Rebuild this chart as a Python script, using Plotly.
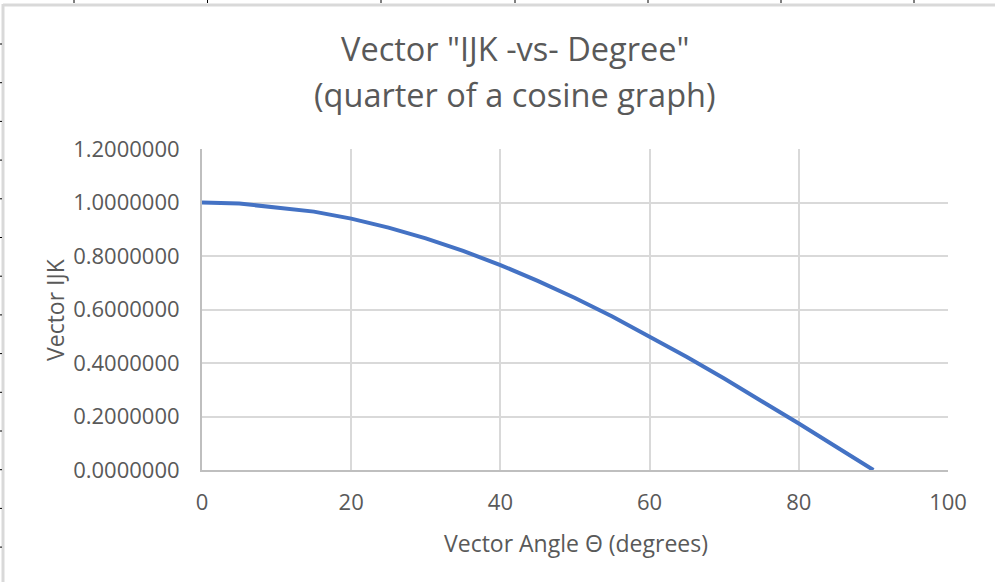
import plotly.graph_objects as go

# Data
angles_deg = [0, 5, 15, 20, 25, 30, 35, 40, 45, 50, 55, 60, 65, 70, 75, 80, 85, 90]
vector_ijk = [1.0000000, 0.9961947, 0.9659258, 0.9396926, 0.9063078, 0.8660254,
              0.8191520, 0.7660444, 0.7071068, 0.6427876, 0.5735764, 0.5000000,
              0.4226183, 0.3420201, 0.2588190, 0.1736482, 0.0871557, 0.0000000]

x_ticks = [0, 20, 40, 60, 80, 100]
y_ticks = [0.0, 0.2, 0.4, 0.6, 0.8, 1.0, 1.2]
y_tick_labels = ["0.0000000", "0.2000000", "0.4000000", "0.6000000", "0.8000000", "1.0000000", "1.2000000"]

title_line1 = 'Vector "IJK -vs- Degree"'
title_line2 = '(quarter of a cosine graph)'
x_title = 'Vector Angle Θ (degrees)'
y_title = 'Vector IJK'

W, H = 995, 582
L, R, T, B = 202, 47, 149, 112
FONT = "Open Sans"
TXT = "#595959"

fig = go.Figure()
fig.add_trace(go.Scatter(x=angles_deg, y=vector_ijk, mode="lines",
                         line=dict(color="#4472C4", width=4, shape="linear"),
                         showlegend=False, hoverinfo="x+y"))

fig.update_layout(
    width=W, height=H,
    margin=dict(l=L, r=R, t=T, b=B, pad=0),
    paper_bgcolor="white", plot_bgcolor="white",
    font=dict(family=FONT, color=TXT),
    xaxis=dict(range=[0, 100], tickvals=x_ticks, ticks="", showgrid=True,
               gridcolor="#d9d9d9", gridwidth=1.5, zeroline=False,
               showline=True, linecolor="#bfbfbf", linewidth=2,
               tickfont=dict(size=22, color=TXT, family=FONT), ticklabelstandoff=12),
    yaxis=dict(range=[0, 1.2], tickvals=y_ticks, ticktext=y_tick_labels, ticks="",
               showgrid=True, gridcolor="#d9d9d9", gridwidth=1.5, zeroline=False,
               showline=True, linecolor="#bfbfbf", linewidth=2,
               tickfont=dict(size=22, color=TXT, family=FONT), ticklabelstandoff=16),
)

def py(ypix):
    return (H - B - ypix) / (H - T - B)
def px(xpix):
    return (xpix - L) / (W - L - R)

fig.add_annotation(text=title_line1, xref="paper", yref="paper", x=px(515), y=py(48),
                   xanchor="center", yanchor="middle", showarrow=False,
                   font=dict(size=32.5, color=TXT, family=FONT))
fig.add_annotation(text=title_line2, xref="paper", yref="paper", x=px(515), y=py(94),
                   xanchor="center", yanchor="middle", showarrow=False,
                   font=dict(size=32.5, color=TXT, family=FONT))
fig.add_annotation(text=x_title, xref="paper", yref="paper", x=px(576), y=py(543),
                   xanchor="center", yanchor="middle", showarrow=False,
                   font=dict(size=23, color=TXT, family=FONT))
fig.add_annotation(text=y_title, xref="paper", yref="paper", x=px(55), y=py(310),
                   xanchor="center", yanchor="middle", showarrow=False, textangle=-90,
                   font=dict(size=23, color=TXT, family=FONT))

# spreadsheet cell borders peeking at edges
shapes = []
shapes.append(dict(type="line", xref="paper", yref="paper", x0=px(3), x1=px(W), y0=py(5), y1=py(5),
                   line=dict(color="#d9d9d9", width=3)))
shapes.append(dict(type="line", xref="paper", yref="paper", x0=px(3), x1=px(3), y0=py(4), y1=py(H),
                   line=dict(color="#d9d9d9", width=3)))
for xt in [74, 207.5, 381, 515, 648, 781, 914]:
    shapes.append(dict(type="line", xref="paper", yref="paper", x0=px(xt), x1=px(xt), y0=py(0), y1=py(3),
                       line=dict(color="black", width=1)))
for i in range(14):
    yt = 44 + 38.7 * i
    shapes.append(dict(type="line", xref="paper", yref="paper", x0=px(0), x1=px(2), y0=py(yt), y1=py(yt),
                       line=dict(color="black", width=1)))
fig.update_layout(shapes=shapes)

fig.write_html("out.html", config={"displayModeBar": False},
               post_script="document.body.style.margin='0';document.body.style.overflow='hidden';")
